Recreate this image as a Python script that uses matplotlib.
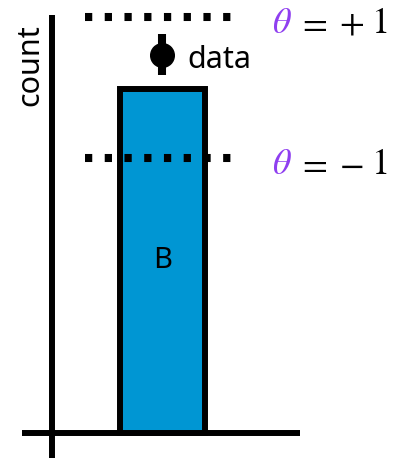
import matplotlib.pyplot as plt

plt.rcParams['font.family'] = ['Noto Sans', 'DejaVu Sans']
plt.rcParams['mathtext.fontset'] = 'stix'

# values
categories = ['B']
counts = [100]
theta_levels = [121, 80]
theta_labels = ['+1', '-1']
data_value = 110
data_err = 6

fig = plt.figure(figsize=(4.02, 4.61), dpi=100)
ax = fig.add_axes([0, 0, 1, 1])
ax.axis('off')
ax.set_xlim(-1.912, 2.818)
ax.set_ylim(-8.14, 125.87)

# hand drawn axes
ax.plot([-1.3, -1.3], [-7.3, 121.5], color='k', lw=4.3, solid_capstyle='butt')
ax.plot([-1.65, 1.62], [0, 0], color='k', lw=4.3, solid_capstyle='butt')

ax.bar([0], counts, width=1.0, color='#0096d3', edgecolor='k', linewidth=4.3, zorder=2)
ax.text(0, counts[0] / 2, categories[0], ha='center', va='center', fontsize=21)


def label_part(s, x, level, color='k'):
    ax.annotate(s, xy=(x, level), xytext=(0, -12), textcoords='offset points',
                va='baseline', ha='left', fontsize=26, color=color)


for level, lab in zip(theta_levels, theta_labels):
    ax.plot([-0.912, 0.888], [level, level], color='k', lw=5.8,
            linestyle=(0, (0.9, 1.55)), dash_capstyle='butt', zorder=3)
    label_part(r'$\theta$', 1.288, level, color='#8f3ff0')
    label_part(r'$=$', 1.58, level)
    label_part('$' + lab[0] + '$', 2.08, level)
    label_part('$' + lab[1:] + '$', 2.45, level)

ax.errorbar([0], [data_value], yerr=[data_err], fmt='o', color='k',
            ms=17, elinewidth=5.8, capsize=0, zorder=4)
ax.annotate('data', xy=(0, data_value), xytext=(18, -10),
            textcoords='offset points', va='baseline', ha='left', fontsize=22)

ax.text(-1.559, 107, 'count', rotation=90, ha='center', va='center', fontsize=22)

fig.savefig('out.png', dpi=100)
